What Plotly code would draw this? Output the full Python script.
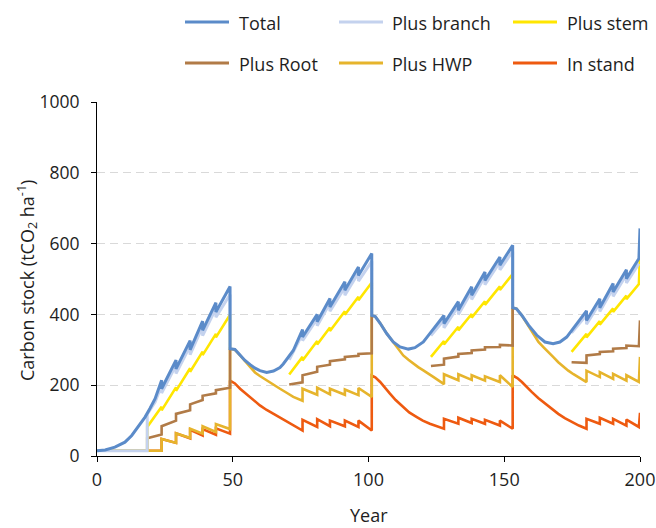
import plotly.graph_objects as go

# ---- series data (year, tCO2/ha); None breaks a line between rotations ----
total_year = [0, 3, 6.6, 10.3, 12.8, 15.2, 17.7, 19.5, 21.4, 23.8, 23.8, 29.1, 29.1, 34.3, 34.3, 38.9, 38.9, 43.8, 43.8, 49, 49,
              50.8, 52.7, 54.5, 56.4, 58.2, 60, 62.5, 65, 67.4, 68.6, 70.8, 72.3, 75.7, 75.7, 81.1, 81.1, 85.8, 85.8, 91.3, 91.3, 96.3, 96.3, 101.2, 101.2,
              102.5, 104.3, 106.7, 109.1, 111.6, 114.7, 117.1, 120.2, 123, 127.8, 127.8, 133.1, 133.1, 138, 138, 142.9, 142.9, 148.4, 148.4, 153.1, 153.1,
              154.5, 156.5, 159, 162, 165, 168, 170.5, 173, 175.4, 180.3, 180.3, 185.2, 185.2, 190.1, 190.1, 195, 195, 199.6, 200]
total_value = [15, 17, 25, 39, 58, 82, 110, 134, 162, 214, 190, 271, 246, 326, 300, 381, 355, 433, 407, 479, 303,
               301, 285, 270, 258, 248, 241, 236, 240, 250, 260, 282, 298, 357, 336, 400, 379, 445, 421, 492, 468, 534, 510, 572, 397,
               394, 375, 346, 322, 308, 302, 306, 322, 350, 397, 374, 436, 412, 478, 454, 520, 496, 562, 539, 595, 419,
               416, 397, 369, 341, 322, 317, 322, 336, 360, 410, 383, 444, 419, 487, 463, 526, 501, 558, 643]

branch_year = [0, 18.5, 18.5, 21.4, 23.8, 23.8, 29.1, 29.1, 34.3, 34.3, 38.9, 38.9, 43.8, 43.8, 49, 49, None,
               70.8, 75.7, 75.7, 81.1, 81.1, 85.8, 85.8, 91.3, 91.3, 96.3, 96.3, 101.2, 101.2, None,
               123, 127.8, 127.8, 133.1, 133.1, 138, 138, 142.9, 142.9, 148.4, 148.4, 153.1, 153.1, None,
               174.8, 180.3, 180.3, 185.2, 185.2, 190.1, 190.1, 195, 195, 199.6]
branch_value = [15, 15, 118, 152, 201, 178, 257, 233, 311, 286, 366, 340, 417, 392, 456, 303, None,
                272, 345, 326, 388, 368, 432, 409, 477, 454, 518, 494, 550, 397, None,
                340, 384, 362, 423, 400, 465, 442, 507, 484, 548, 526, 578, 419, None,
                348, 398, 372, 432, 408, 474, 451, 512, 489, 543]

stem_year = [0, 18.5, 18.5, 23.8, 23.8, 29.1, 29.1, 34.3, 34.3, 38.9, 38.9, 43.8, 43.8, 49, 49, None,
             70.8, 75.7, 75.7, 81.1, 81.1, 85.8, 85.8, 91.3, 91.3, 96.3, 96.3, 101.2, 101.2, None,
             123, 127.8, 127.8, 133.1, 133.1, 138, 138, 142.9, 142.9, 148.4, 148.4, 153.1, 153.1, None,
             174.8, 180.3, 180.3, 185.2, 185.2, 190.1, 190.1, 195, 195, 199.6, 200]
stem_value = [15, 15, 82, 139, 129, 194, 184, 248, 238, 295, 285, 345, 335, 399, 303, None,
              230, 280, 270, 325, 315, 363, 353, 409, 399, 450, 440, 490, 397, None,
              280, 325, 315, 365, 355, 401, 391, 437, 427, 479, 469, 514, 419, None,
              294, 345, 335, 381, 371, 417, 407, 453, 443, 486, 572]

root_year = [0, 18.5, 18.5, 23.8, 23.8, 29.1, 29.1, 34.3, 34.3, 38.9, 38.9, 43.8, 43.8, 49, 49, None,
             70.8, 75.7, 75.7, 81.1, 81.1, 85.8, 85.8, 91.3, 91.3, 96.3, 96.3, 101.2, 101.2, None,
             123, 127.8, 127.8, 133.1, 133.1, 138, 138, 142.9, 142.9, 148.4, 148.4, 153.1, 153.1, None,
             174.8, 180.3, 180.3, 185.2, 185.2, 190.1, 190.1, 195, 195, 199.6, 200]
root_value = [15, 15, 50, 61, 84, 100, 119, 129, 146, 158, 170, 177, 186, 193, 303, None,
              202, 208, 228, 238, 252, 258, 268, 273, 280, 283, 288, 290, 397, None,
              254, 258, 275, 281, 288, 291, 298, 301, 307, 308, 314, 312, 419, None,
              265, 263, 284, 288, 294, 296, 303, 305, 312, 310, 383]

hwp_year = [0, 23.8, 23.8, 29.1, 29.1, 34.3, 34.3, 38.9, 38.9, 43.8, 43.8, 49, 49,
            50.8, 52.7, 54.5, 56.4, 58.2, 60, 62.5, 65, 67.4, 70, 72.3, 75.7, 75.7, 81.1, 81.1, 85.8, 85.8, 91.3, 91.3, 96.3, 96.3, 101.2, 101.2,
            102.5, 104.3, 106.7, 108, 109.2, 110.4, 111.6, 112.8, 114.7, 116.5, 118.3, 120.2, 122, 124, 125.9, 127.8, 127.8,
            133.1, 133.1, 138, 138, 142.9, 142.9, 148.4, 148.4, 153.1, 153.1,
            154.5, 156.5, 158.5, 160.1, 161.3, 162.6, 164.5, 166.3, 168, 169.9, 171.7, 173.6, 175.5, 177.3, 180.3, 180.3,
            185.2, 185.2, 190.1, 190.1, 195, 195, 199.6, 200]
hwp_value = [15, 15, 48, 37, 64, 51, 77, 63, 84, 68, 90, 76, 303,
             300, 284, 268, 251, 236, 226, 213, 200, 190, 178, 167, 156, 190, 173, 193, 174, 190, 173, 188, 172, 192, 167, 397,
             394, 375, 346, 333, 320, 308, 296, 284, 272, 261, 251, 242, 232, 223, 213, 203, 231,
             214, 231, 215, 228, 213, 225, 209, 228, 195, 419,
             416, 397, 372, 352, 337, 322, 307, 294, 280, 265, 252, 241, 231, 223, 209, 241,
             223, 237, 218, 232, 213, 228, 209, 280]

stand_year = [0, 23.8, 23.8, 29.1, 29.1, 34.3, 34.3, 38.9, 38.9, 43.8, 43.8, 49, 49,
              50.8, 52.7, 54.5, 56.4, 58.2, 60, 62.5, 65, 67.4, 70, 72.3, 75.7, 75.7, 81.1, 81.1, 85.8, 85.8, 91.3, 91.3, 96.3, 96.3, 101.2, 101.2,
              102.5, 104.3, 106, 107.9, 110, 112.8, 115, 117.8, 120, 122.6, 125, 127.8, 127.8,
              133.1, 133.1, 138, 138, 142.9, 142.9, 148.4, 148.4, 153.1, 153.1,
              154.8, 156.5, 158.2, 160.1, 162.5, 165, 167.5, 169.9, 172.3, 174.8, 177.5, 180.3, 180.3,
              185.2, 185.2, 190.1, 190.1, 195, 195, 199.6, 200]
stand_value = [15, 15, 48, 37, 64, 50, 74, 58, 76, 60, 78, 63, 213,
               205, 190, 178, 166, 154, 143, 130, 119, 108, 97, 88, 72, 102, 82, 104, 84, 100, 84, 100, 82, 100, 72, 227,
               222, 209, 192, 176, 158, 138, 123, 110, 100, 91, 84, 77, 105,
               91, 108, 93, 105, 91, 102, 86, 100, 77, 228,
               220, 209, 195, 181, 164, 148, 133, 119, 107, 96, 86, 77, 105,
               91, 108, 91, 105, 86, 103, 82, 122]

x_ticks = [0, 50, 100, 150, 200]
y_ticks = [0, 200, 400, 600, 800, 1000]

# name, years, values, colour, width  (legend order)
series = [
    ("Total", total_year, total_value, "#5b8bc9", 3.0),
    ("Plus branch", branch_year, branch_value, "#c4d2ee", 3.0),
    ("Plus stem", stem_year, stem_value, "#ffe600", 2.6),
    ("Plus Root", root_year, root_value, "#b17b47", 2.6),
    ("Plus HWP", hwp_year, hwp_value, "#e6b42c", 2.6),
    ("In stand", stand_year, stand_value, "#ee5a10", 2.6),
]

FONT = "Open Sans, Noto Sans, sans-serif"
TXT = "#1e1e1e"
W, H = 656, 528
ML, MR, MT, MB = 97, 16, 102, 72
PW, PH = W - ML - MR, H - MT - MB


def px_x(px):
    return (px - ML) / PW


def px_y(py):
    return (H - MB - py) / PH


fig = go.Figure()
# bottom-most series drawn first so "Total" sits on top
for name, xs, ys, col, lw in reversed(series):
    fig.add_trace(go.Scatter(x=xs, y=ys, mode="lines", name=name,
                             line=dict(color=col, width=lw),
                             showlegend=False, hoverinfo="skip"))

# legend laid out in a 3 x 2 grid above the plot
shapes, annotations = [], []
col_line_x = [(185, 229), (339, 383), (513, 557)]
col_text_x = [237, 390, 565]
row_y = [22, 63]
for i, (name, _, _, col, lw) in enumerate(series):
    r, c = divmod(i, 3)
    x0, x1 = col_line_x[c]
    shapes.append(dict(type="line", xref="paper", yref="paper",
                       x0=px_x(x0), x1=px_x(x1), y0=px_y(row_y[r]), y1=px_y(row_y[r]),
                       line=dict(color=col, width=3)))
    annotations.append(dict(text=name, xref="paper", yref="paper",
                            x=px_x(col_text_x[c]), y=px_y(row_y[r] + 1),
                            xanchor="left", yanchor="middle", showarrow=False,
                            font=dict(family=FONT, size=18, color=TXT)))

annotations.append(dict(text="Year", xref="paper", yref="paper",
                        x=0.5, y=px_y(515), xanchor="center", yanchor="middle",
                        showarrow=False, font=dict(family=FONT, size=18, color=TXT)))
annotations.append(dict(text="Carbon stock (tCO<sub>2</sub> ha<sup>-1</sup>)",
                        xref="paper", yref="paper", x=px_x(27), y=px_y(281),
                        xanchor="center", yanchor="middle", textangle=-90,
                        showarrow=False, font=dict(family=FONT, size=18, color=TXT)))

fig.update_layout(
    width=W, height=H,
    margin=dict(l=ML, r=MR, t=MT, b=MB, pad=0, autoexpand=False),
    paper_bgcolor="white", plot_bgcolor="white",
    font=dict(family=FONT, size=18, color=TXT),
    shapes=shapes, annotations=annotations,
    showlegend=False,
)
fig.update_xaxes(range=[0, 200], tickvals=x_ticks, ticks="outside", ticklen=5,
                 tickcolor="#000", tickwidth=1, showline=True, linecolor="#000",
                 linewidth=1, showgrid=False, zeroline=False, automargin=False,
                 tickfont=dict(family=FONT, size=18, color=TXT), ticklabelstandoff=2)
fig.update_yaxes(range=[0, 1000], tickvals=y_ticks, ticks="outside", ticklen=5,
                 tickcolor="#000", tickwidth=1, showline=True, linecolor="#000",
                 linewidth=1, showgrid=True, gridcolor="#d9d9d9", gridwidth=1,
                 griddash="8px,5px", zeroline=False, automargin=False,
                 tickfont=dict(family=FONT, size=17.5, color=TXT), ticklabelstandoff=8)

fig.write_html("out.html")
